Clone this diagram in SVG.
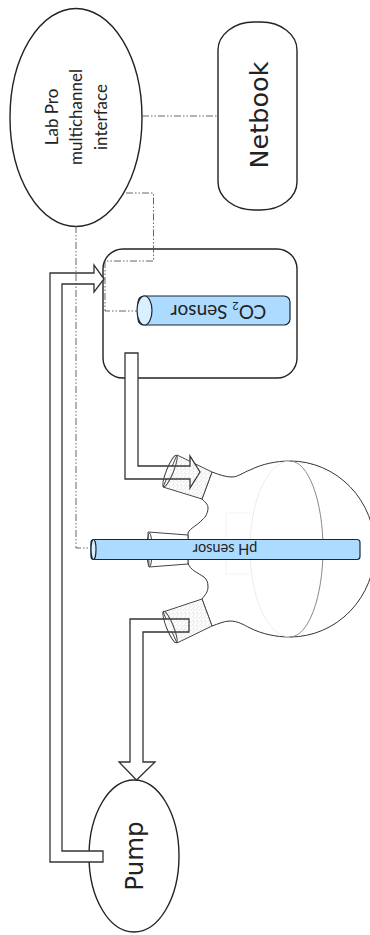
<svg xmlns="http://www.w3.org/2000/svg" width="370" height="935" viewBox="0 0 370 935">
<style>
.o{fill:#fff;stroke:#222;stroke-width:1.4}
.tube{fill:#fff;stroke:#333;stroke-width:1.3;stroke-linejoin:miter}
.blue{fill:#addaff;stroke:#1c2733;stroke-width:1.2}
.cap{fill:#daefff;stroke:#1c2733;stroke-width:1.2}
.link{fill:none;stroke:#555;stroke-width:.9;stroke-dasharray:7 2 1.5 2 1.5 2}
.flask{fill:#fff;stroke:#333;stroke-width:1}
.neck{fill:#fff;stroke:#444;stroke-width:1}
.dot{fill:url(#dots);stroke:none}
.rim{fill:none;stroke:#444;stroke-width:1}
text{font-family:"Lato","Liberation Sans",sans-serif;fill:#222;text-anchor:middle}
.big{font-family:"DejaVu Sans",sans-serif}
</style>
<defs>
<pattern id="dots" width="4" height="4" patternUnits="userSpaceOnUse">
<circle cx="1" cy="1" r=".45" fill="#888"/><circle cx="3" cy="2" r=".45" fill="#999"/><circle cx="1.500" cy="3.400" r=".35" fill="#aaa"/>
</pattern>
</defs>
<g id="flask">
<path class="flask" d="M212 472C220 475 226 477 232 477C238 477 244 472 250 470C262 464 276 461 290 461A85 88 0 0 1 290 637C276 637 262 634 250 628C244 625 238 621 230 621C224 621 218 624 212 626L202 599C205 595 208 592 208 587C208 582 207 580 204 577C198 573 190 570 188 563V533C190 528 198 525 202 520C206 517 208 512 208 508C208 504 205 502 202 499Z"/>
<path d="M290 461A33 88 0 0 1 290 637" fill="none" stroke="#888" stroke-width="1"/>
<path d="M290 461A40 88 0 0 0 290 637" fill="none" stroke="#e6e6e6" stroke-width=".8"/>
<path d="M250 513H226V574H250" fill="none" stroke="#eee" stroke-width=".7"/>
<path class="neck" d="M163 487L177 455L212 472L202 499Z"/>
<path class="neck" d="M148 532L188 535V564L149 567Z"/>
<path class="neck" d="M163 612L202 599L212 626L177 643Z"/>
</g>
<g id="netbook">
<rect class="o" x="218" y="22" width="79" height="188" rx="36" ry="28"/>
<text class="big" font-size="25.500" transform="translate(268 115) rotate(-90)">Netbook</text>
</g>
<g id="co2-chamber">
<rect class="o" x="103" y="249" width="194" height="129" rx="20" ry="20"/>
</g>
<g id="co2-sensor">
<rect class="blue" x="138" y="296" width="152" height="29" rx="6" ry="6"/>
<ellipse class="cap" cx="144.500" cy="310.500" rx="7.500" ry="14.500"/>
<text transform="translate(218.500 304.500) rotate(180)" font-size="19">CO<tspan font-size="11" dy="3">2</tspan><tspan dy="-3"> Sensor</tspan></text>
</g>
<g id="lab-pro">
<ellipse class="o" cx="76" cy="117.500" rx="66" ry="109"/>
<text transform="translate(58 117) rotate(-90)" font-size="17">Lab Pro</text>
<text transform="translate(82 117) rotate(-90)" font-size="17">multichannel</text>
<text transform="translate(106.500 117) rotate(-90)" font-size="17">interface</text>
</g>
<g id="pump">
<ellipse class="o" cx="134" cy="856" rx="45" ry="76"/>
<text class="big" font-size="24.500" transform="translate(143 856) rotate(-90)">Pump</text>
</g>
<g id="tubes">
<path class="tube" d="M103 851H62V284H94V292L104 279L94 265V273H50V862H103Z"/>
<path class="tube" d="M125 353H138V466H190V456L200 472L190 488V479H125Z"/>
<path class="tube" d="M189 619H130V762H119L136.500 780L155 762H143V632H189Z"/>
</g>
<g id="neck-details">
<path class="dot" d="M163 487L177 455L212 472L202 499Z"/>
<path class="dot" d="M163 612L202 599L212 626L177 643Z"/>
<ellipse class="rim" cx="170" cy="471" rx="3.500" ry="17" transform="rotate(22 170 471)"/>
<ellipse class="rim" cx="170" cy="627" rx="3.500" ry="17" transform="rotate(-22 170 627)"/>
<ellipse class="rim" cx="149.500" cy="550" rx="2.500" ry="17"/>
</g>
<g id="ph-sensor">
<rect class="blue" x="91" y="539.500" width="269" height="20" rx="3" ry="3"/>
<ellipse class="cap" cx="93.500" cy="549.500" rx="2.500" ry="10"/>
<text transform="translate(225 543.500) rotate(180)" font-size="14.500">pH sensor</text>
</g>
<g id="connectors">
<path class="link" d="M142 116H218"/>
<path class="link" d="M126 193H153.500V261H105V311H137"/>
<path class="link" d="M76 226V548H91"/>
</g>
</svg>
